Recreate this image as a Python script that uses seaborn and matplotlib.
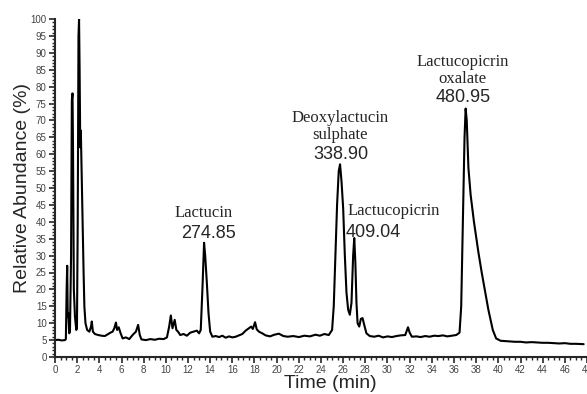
import numpy as np
import pandas as pd
import matplotlib
matplotlib.use("Agg")
import matplotlib.pyplot as plt
from matplotlib.ticker import MultipleLocator
import seaborn as sns

# Chromatogram trace
time_min = [0.0, 0.3, 0.6, 0.9, 0.98, 1.05, 1.1, 1.15, 1.2, 1.28, 1.35, 1.45, 1.52, 1.58, 1.63,
            1.7, 1.8, 1.92, 1.98, 2.05, 2.12, 2.17, 2.22, 2.28, 2.33, 2.4, 2.5, 2.58, 2.65, 2.75,
            2.9, 3.1, 3.25, 3.32, 3.42, 3.6, 3.9, 4.2, 4.5, 4.8, 5.0, 5.2, 5.35, 5.5, 5.6, 5.75,
            5.9, 6.1, 6.4, 6.7, 7.0, 7.3, 7.5, 7.65, 7.8, 8.2, 8.6, 9.0, 9.4, 9.8, 10.1, 10.3,
            10.45, 10.6, 10.8, 10.95, 11.1, 11.3, 11.6, 11.9, 12.2, 12.5, 12.8, 13.0, 13.15, 13.3,
            13.45, 13.55, 13.7, 13.85, 14.0, 14.2, 14.5, 14.8, 15.1, 15.4, 15.7, 16.0, 16.3, 16.6,
            16.9, 17.2, 17.5, 17.7, 17.85, 18.05, 18.2, 18.4, 18.7, 19.0, 19.4, 19.8, 20.2, 20.6,
            21.0, 21.5, 22.0, 22.5, 23.0, 23.5, 23.9, 24.3, 24.7, 25.0, 25.15, 25.3, 25.45, 25.6,
            25.72, 25.85, 26.0, 26.15, 26.3, 26.45, 26.6, 26.75, 26.9, 27.0, 27.1, 27.2, 27.3,
            27.45, 27.6, 27.75, 27.9, 28.1, 28.4, 28.8, 29.2, 29.6, 30.0, 30.4, 30.8, 31.2, 31.6,
            31.85, 32.0, 32.2, 32.6, 33.0, 33.4, 33.8, 34.2, 34.6, 35.0, 35.4, 35.8, 36.2, 36.5,
            36.65, 36.8, 36.95, 37.05, 37.15, 37.3, 37.5, 37.8, 38.2, 38.5, 38.8, 39.1, 39.5,
            39.8, 40.2, 40.6, 41.0, 41.5, 42.0, 42.5, 43.0, 43.5, 44.0, 44.5, 45.0, 45.5, 46.0,
            46.5, 47.0, 47.7]
abundance = [5.0, 5.1, 4.9, 5.0, 5.3, 20, 27, 12, 13, 7, 7.5, 30, 76, 78, 60,
             20, 12, 8, 8.5, 40, 95, 100, 85, 62, 67, 55, 38, 25, 15, 10,
             8, 7.5, 9, 10.5, 7.5, 6.8, 6.5, 6.3, 6.2, 6.8, 7.2, 7.5, 8.5, 10.2, 8, 8.8,
             7.2, 5.5, 5.8, 5.3, 6.5, 7.5, 9.5, 6.5, 5.2, 5.0, 5.3, 5.1, 5.4, 5.3, 5.8, 9,
             12.3, 8.5, 11, 8, 7.5, 6.5, 6.8, 6.3, 7.2, 7.5, 7.8, 7.0, 8, 20,
             33.8, 30, 22, 13, 7.5, 6.0, 6.2, 5.9, 6.3, 5.7, 6.1, 5.8, 6.0, 6.4,
             6.8, 7.8, 8.5, 9.0, 8.3, 10.3, 8.2, 7.5, 7.0, 6.4, 6.1, 6.6, 6.9, 6.2,
             6.0, 6.2, 5.9, 6.3, 6.1, 6.6, 6.3, 6.8, 6.5, 8, 15, 30, 45, 55,
             57, 52, 44, 30, 19, 14, 12.5, 16, 30, 35.2, 28, 16, 10,
             9, 11.3, 11.5, 9.5, 7.0, 6.2, 6.0, 6.3, 5.8, 6.1, 5.9, 6.2, 6.4, 6.5,
             8.8, 7.2, 6.0, 6.1, 5.9, 6.2, 6.0, 6.3, 6.2, 6.4, 6.1, 6.3, 6.5, 7.2,
             15, 40, 65, 73.5, 70, 56, 48, 40, 31, 25, 19.5, 14, 8,
             5.5, 4.8, 4.7, 4.6, 4.5, 4.5, 4.3, 4.4, 4.3, 4.2, 4.2, 4.1, 4.0, 4.1,
             3.9, 3.9, 3.8]

peak_names = ["Lactucin", "Deoxylactucin\nsulphate", "Lactucopicrin", "Lactucopicrin\noxalate"]
peak_mz = ["274.85", "338.90", "409.04", "480.95"]

df = pd.DataFrame({"Time (min)": time_min, "Relative Abundance (%)": abundance})

sns.set_style("ticks")
fig = plt.figure(figsize=(5.87, 3.94), dpi=100)
ax = fig.add_axes([55 / 587, 37 / 394, 1 - 55 / 587, (357 - 19) / 394])

sns.lineplot(data=df, x="Time (min)", y="Relative Abundance (%)", color="black",
             linewidth=1.5, estimator=None, ax=ax)

ax.set_xlim(0, 48)
ax.set_ylim(0, 100)
ax.xaxis.set_major_locator(MultipleLocator(2))
ax.xaxis.set_minor_locator(MultipleLocator(0.5))
ax.yaxis.set_major_locator(MultipleLocator(5))
ax.yaxis.set_minor_locator(MultipleLocator(1))
ax.tick_params(which="major", length=4, width=1.2, labelsize=7, labelcolor="#444444",
               pad=2, direction="out")
ax.tick_params(which="minor", length=2.5, width=1.0, direction="out")
for lbl in ax.get_xticklabels() + ax.get_yticklabels():
    lbl.set_fontfamily("Liberation Sans")
for s in ["left", "bottom"]:
    ax.spines[s].set_linewidth(1.5)
sns.despine(ax=ax)

ax.set_xlabel("Time (min)", fontsize=14, family="Liberation Sans")
ax.set_ylabel("Relative Abundance (%)", fontsize=14, family="Liberation Sans")
ax.xaxis.set_label_coords(0.517, -0.052)
ax.yaxis.set_label_coords(-0.046, 0.5)

# annotations (name in serif, m/z in sans), centred on each line
name_pos = [(13.4, 42.6), (25.7, 68.2), (30.6, 43.2), (36.8, 84.7)]
mz_pos = [(13.87, 36.4), (25.8, 59.8), (28.7, 36.7), (36.8, 76.9)]
for nm, (x, y) in zip(peak_names, name_pos):
    ax.text(x, y, nm, family="Liberation Serif", fontsize=12, ha="center", va="center",
            linespacing=1.05)
for mz, (x, y) in zip(peak_mz, mz_pos):
    ax.text(x, y, mz, family="Liberation Sans", fontsize=13, ha="center", va="center")

fig.savefig("out.png", dpi=100, facecolor="white")
